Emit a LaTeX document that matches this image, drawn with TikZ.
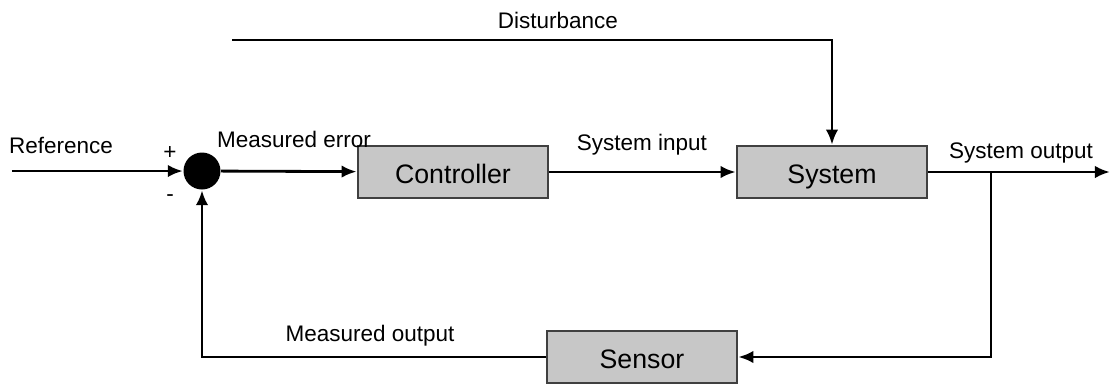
\documentclass[tikz,border=0pt]{standalone}
\usepackage{fontspec}
\setmainfont{Liberation Sans}
\usetikzlibrary{positioning,calc,arrows.meta}

\tikzset{
  block/.style={draw=black!75,fill=black!22,thick,minimum height=0.52cm,minimum width=1.9cm,inner ysep=0pt,
    text height=1.6ex,text depth=0.35ex,font=\fontsize{7.6}{9}\selectfont},
  lbl/.style={font=\fontsize{6.4}{8}\selectfont,inner sep=0pt},
  sig/.style={thick,-{Latex[length=1.5mm,width=1.25mm]}}
}

\begin{document}
\begin{tikzpicture}
   \useasboundingbox (0,0) rectangle (11.1,-3.83);

   \coordinate (ref) at (0.12,-1.71);
   \coordinate (dist) at (2.32,-0.40);
   \coordinate (out) at (11.1,-1.72);
   \coordinate (branch) at (9.91,-1.72);

   \node[circle,fill=black,inner sep=0pt,minimum size=0.37cm] at (2.02,-1.71) (sum) {};
   \node[block] at (4.53,-1.72) (ctrl) {Controller};
   \node[block] at (8.32,-1.72) (sys) {System};
   \node[block] at (6.42,-3.57) (sensor) {Sensor};

   \node[lbl] at (0.61,-1.45) (reftxt) {Reference};
   \node[lbl] at (1.70,-1.53) (plus) {+};
   \node[lbl] at (1.70,-1.98) (minus) {-};
   \node[lbl] at (2.94,-1.39) (errtxt) {Measured error};
   \node[lbl] at (6.42,-1.45) (intxt) {System input};
   \node[lbl] at (5.58,-0.20) (disttxt) {Disturbance};
   \node[lbl] at (10.21,-1.53) (outtxt) {System output};
   \node[lbl] at (3.70,-3.36) (meastxt) {Measured output};

   \draw[sig] (ref) -- (sum);
   \draw[sig] (sum) -- (ctrl);
   \draw[sig] (ctrl) -- (sys);
   \draw[sig] (dist) -| (sys);
   \draw[sig] (sys) -- (out);
   \draw[sig] (branch) |- (sensor);
   \draw[sig] (sensor) -| (sum);
\end{tikzpicture}
\end{document}
